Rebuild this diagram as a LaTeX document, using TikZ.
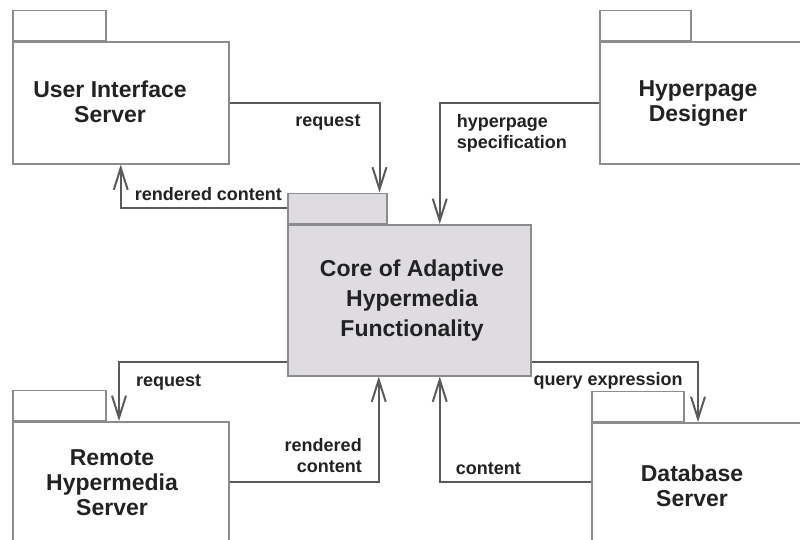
\documentclass[tikz,border=0pt]{standalone}
\usepackage{fontspec}
\setmainfont{Liberation Sans}
\usetikzlibrary{arrows.meta,positioning}
\definecolor{boxgray}{HTML}{8C8C8C}
\definecolor{linegray}{HTML}{5A5A5A}
\definecolor{coregray}{HTML}{DEDCE0}
\definecolor{inkgray}{HTML}{222222}
\tikzstyle{pkg} = [rectangle, draw=boxgray, line width=1.5pt, inner sep=0pt, fill=white]
\tikzstyle{corepkg} = [pkg, fill=coregray]
\tikzstyle{title} = [align=center, inner sep=0pt, anchor=north, text=inkgray, font=\bfseries\fontsize{23}{25}\selectfont]
\tikzstyle{lbl} = [inner sep=0pt, text=inkgray, font=\bfseries\fontsize{18}{21}\selectfont]
\tikzstyle{flow} = [draw=linegray, line width=2pt, -{Straight Barb[length=22pt,width=14pt]}]
\newcommand{\pkgtab}[3]{\node [#3, minimum width=#2, minimum height=30, anchor=south west] (#1tab) at (#1.north west) {};}

\begin{document}
\begin{tikzpicture}[x=1pt, y=-1pt]
	\path[fill=white, use as bounding box] (0,0) rectangle (800,539);
	% packages
	\node [pkg, minimum width=216, minimum height=122, anchor=north west] (ui) at (12,41) {};
	\node [corepkg, minimum width=243, minimum height=151, anchor=north west] (core) at (287,224) {};
	\node [pkg, minimum width=240, minimum height=122, anchor=north west] (des) at (599,41) {};
	\node [pkg, minimum width=216, minimum height=140, anchor=north west] (rem) at (12,421) {};
	\node [pkg, minimum width=240, minimum height=140, anchor=north west] (db) at (591,422) {};
	\pkgtab{ui}{93}{pkg}
	\pkgtab{core}{99}{corepkg}
	\pkgtab{des}{91}{pkg}
	\pkgtab{rem}{93}{pkg}
	\pkgtab{db}{92}{pkg}
	% titles
	\node [title] (uititle) at (110,81) {User Interface\\Server};
	\node [title, font=\bfseries\fontsize{23}{30}\selectfont] (coretitle) at (412,260) {Core of Adaptive\\Hypermedia\\Functionality};
	\node [title] (destitle) at (698,80) {Hyperpage\\Designer};
	\node [title] (remtitle) at (112,449) {Remote\\Hypermedia\\Server};
	\node [title] (dbtitle) at (692,465) {Database\\Server};
	% flows
	\draw[flow] (ui.east) -| ([xshift=-8]coretab.north east)
		node[lbl, pos=0.632, anchor=base east, xshift=-18] (uireq) {request};
	\draw[flow] (coretab.west) -| (ui.south)
		node[lbl, pos=0, anchor=base east, xshift=-4, yshift=8] (uiren) {rendered content};
	\draw[flow] (des.west) -| ([xshift=30.5]core.north)
		node[lbl, align=left, pos=0.5, anchor=north west, xshift=16, yshift=-11] (desspec) {hyperpage\\specification};
	\draw[flow] ([yshift=15]core.south west) -| ([xshift=107]rem.north west)
		node[lbl, pos=0.5, anchor=base west, xshift=16, yshift=-25] (remreq) {request};
	\draw[flow] ([yshift=-61]rem.north east) -| ([xshift=-30.5]core.south)
		node[lbl, align=right, pos=0.5, anchor=south east, xshift=-16, yshift=8] (remren) {rendered\\content};
	\draw[flow] ([yshift=15]core.south east) -| ([xshift=107]db.north west)
		node[lbl, pos=0, anchor=base west, xshift=1, yshift=-24] (dbquery) {query expression};
	\draw[flow] ([yshift=-60]db.north west) -| ([xshift=30.5]core.south)
		node[lbl, pos=0.5, anchor=base west, xshift=15, yshift=8] (dbcont) {content};
\end{tikzpicture}
\end{document}
